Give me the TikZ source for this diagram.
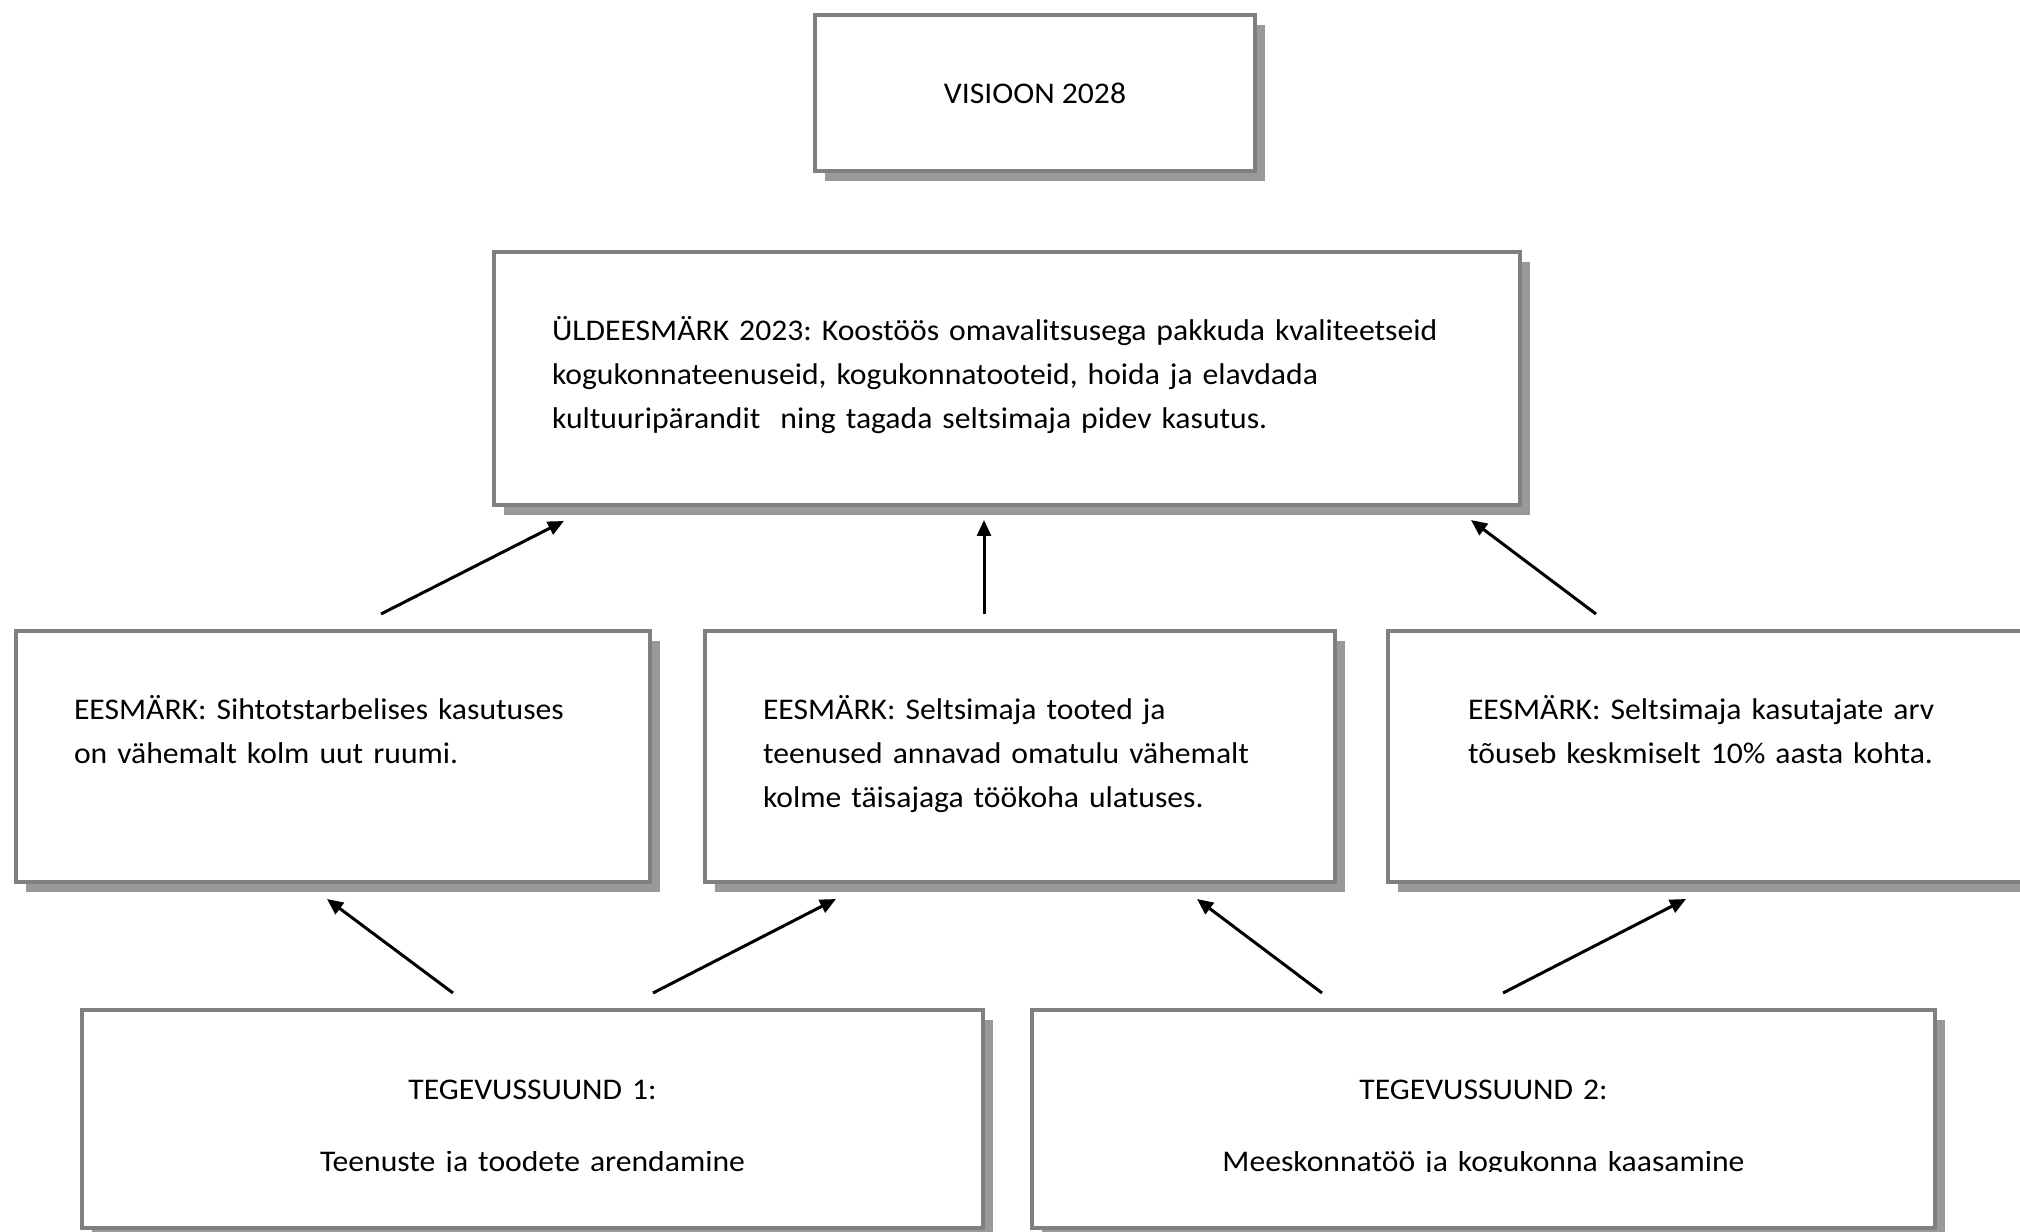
\documentclass[tikz,border=0pt]{standalone}
\usepackage{fontspec}
\setmainfont{Carlito}[FakeStretch=1.055]
\usepackage{trimclip}
\usetikzlibrary{positioning, arrows.meta, shadows}
\definecolor{boxgray}{RGB}{128,128,128}
\definecolor{shadegray}{RGB}{153,153,153}
\frenchspacing

\begin{document}
\begin{tikzpicture}[
  box/.style={draw=boxgray, line width=2pt, fill=white, outer sep=0pt, inner ysep=0pt,
              drop shadow={shadow xshift=5pt, shadow yshift=-5pt, fill=shadegray, opacity=1},
              font=\fontsize{15}{22}\selectfont},
  goalbox/.style={box, align=left, inner xsep=29pt, text height=44.5pt},
  actbox/.style={box, align=center, inner xsep=10pt, text height=45pt, text depth=64pt},
  arr/.style={-{Triangle[length=8pt, width=7pt]}, line width=1.5pt}
 ]
\useasboundingbox (0,0) rectangle (1010pt,616pt);
\node[goalbox, text width=455pt, text depth=82pt] (goal) at (503.5pt,426.75pt)
  {ÜLDEESMÄRK 2023: Koostöös omavalitsusega pakkuda kvaliteetseid\\
   kogukonnateenuseid, kogukonnatooteid, hoida ja elavdada\\
   kultuuripärandit~ ning tagada seltsimaja pidev kasutus.};
\node[box, minimum width=220pt, minimum height=78pt, above=40.5pt of goal, xshift=14pt] (vision)
  {VISIOON 2028};
\node[goalbox, text width=257pt, text depth=81pt, below=63pt of goal, xshift=6.5pt] (g2)
  {EESMÄRK: Seltsimaja tooted ja\\teenused annavad omatulu vähemalt\\kolme täisajaga töökoha ulatuses.};
\node[goalbox, text width=259pt, text depth=81pt, left=27.5pt of g2] (g1)
  {EESMÄRK: Sihtotstarbelises kasutuses\\on vähemalt kolm uut ruumi.};
\node[goalbox, inner xsep=40pt, text width=237pt, text depth=81pt, right=26.5pt of g2] (g3)
  {EESMÄRK: Seltsimaja kasutajate arv\\tõuseb keskmiselt 10\% aasta kohta.};
\node[actbox, text width=430.5pt, below=64pt of g1, xshift=99.75pt] (act1)
  {TEGEVUSSUUND 1:\\[14pt]\clipbox{0pt {\depth} 0pt 0pt}{Teenuste ja toodete arendamine}};
\node[actbox, text width=431.5pt, right=24.5pt of act1] (act2)
  {TEGEVUSSUUND 2:\\[14pt]\clipbox{0pt {\depth} 0pt 0pt}{Meeskonnatöö ja kogukonna kaasamine}};
% goals -> overall goal
\draw[arr] ([shift={(24pt,8.5pt)}]g1.north) -- ([shift={(35pt,-8pt)}]goal.south west);
\draw[arr] ([shift={(-18pt,8.5pt)}]g2.north) -- ([shift={(-11.5pt,-7.5pt)}]goal.south);
\draw[arr] ([shift={(-54.5pt,8.5pt)}]g3.north) -- ([shift={(-24.5pt,-7.5pt)}]goal.south east);
% activity lines -> goals
\draw[arr] ([shift={(-39.75pt,8.5pt)}]act1.north) -- ([shift={(-3pt,-8.5pt)}]g1.south);
\draw[arr] ([shift={(60.25pt,8.5pt)}]act1.north) -- ([shift={(-92pt,-8.5pt)}]g2.south);
\draw[arr] ([shift={(-80.75pt,8.5pt)}]act2.north) -- ([shift={(88.5pt,-8.5pt)}]g2.south);
\draw[arr] ([shift={(9.75pt,8.5pt)}]act2.north) -- ([shift={(-9.5pt,-8.5pt)}]g3.south);
\end{tikzpicture}
\end{document}
